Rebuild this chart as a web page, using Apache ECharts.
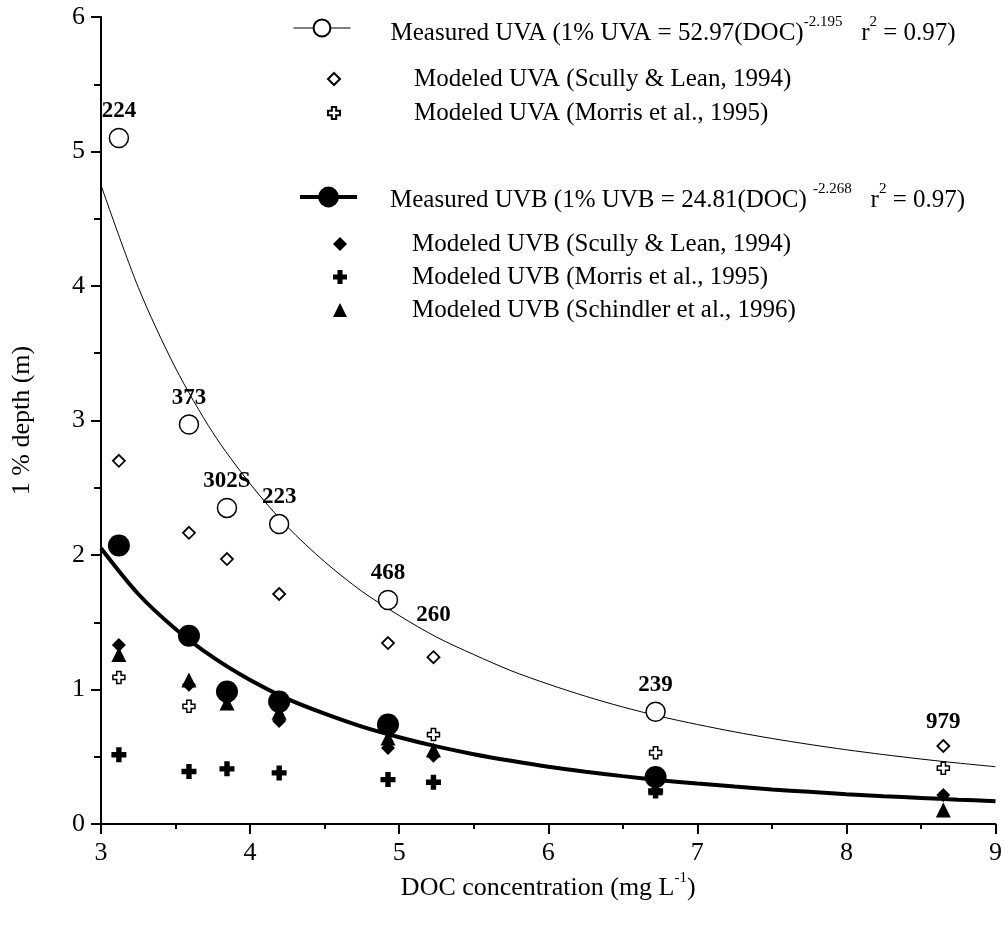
<!DOCTYPE html>
<html>
<head>
<meta charset="utf-8">
<script src="https://cdn.jsdelivr.net/npm/echarts@6/dist/echarts.min.js"></script>
<style>
html,body{margin:0;padding:0;background:#fff;}
#c{width:1005px;height:926px;}
</style>
</head>
<body>
<div id="c"></div>
<script>
// ---- data ----
const stations = ['224', '373', '302S', '223', '468', '260', '239', '979'];
const doc = [3.12, 3.59, 3.845, 4.195, 4.925, 5.23, 6.72, 8.65];
const measuredUVA = [5.10, 2.97, 2.35, 2.23, 1.665, null, 0.835, null];
const measuredUVB = [2.07, 1.40, 0.985, 0.91, 0.74, null, 0.35, null];
const scullyUVA = [2.70, 2.165, 1.97, 1.71, 1.345, 1.24, null, 0.58];
const morrisUVA = [1.09, 0.875, null, null, null, 0.665, 0.53, 0.415];
const scullyUVB = [1.33, 1.035, 0.93, 0.765, 0.565, 0.507, 0.30, 0.215];
const morrisUVB = [0.515, 0.39, 0.41, 0.38, 0.33, 0.31, 0.245, null];
const schindlerUVB = [1.26, 1.07, 0.90, 0.83, 0.64, 0.55, 0.27, 0.105];
// fitted curves
const curveX = [3, 3.25, 3.5, 3.75, 4, 4.25, 4.5, 4.75, 5, 5.25, 5.5, 5.75, 6, 6.25, 6.5, 6.75, 7, 7.25, 7.5, 7.75, 8, 8.25, 8.5, 8.75, 9];
const fitUVA = [4.75, 3.99, 3.39, 2.91, 2.53, 2.21, 1.95, 1.73, 1.55, 1.39, 1.26, 1.14, 1.04, 0.95, 0.87, 0.80, 0.74, 0.685, 0.636, 0.592, 0.552, 0.516, 0.483, 0.453, 0.426];
const fitUVB = [2.05, 1.71, 1.45, 1.24, 1.07, 0.93, 0.82, 0.724, 0.645, 0.577, 0.519, 0.47, 0.426, 0.389, 0.356, 0.326, 0.301, 0.278, 0.257, 0.239, 0.222, 0.207, 0.194, 0.181, 0.17];
const xTicks = [3, 4, 5, 6, 7, 8, 9];
const yTicks = [0, 1, 2, 3, 4, 5, 6];
// labels placed on other markers for stations without a measured UVA point
const labelOnScully = {'260': 24, '979': 6};

const nmUVA = 'Measured UVA';
const nmUVB = 'Measured UVB';
const nmSUVA = 'Modeled UVA (Scully & Lean, 1994)';
const nmMUVA = 'Modeled UVA (Morris et al., 1995)';
const nmSUVB = 'Modeled UVB (Scully & Lean, 1994)';
const nmMUVB = 'Modeled UVB (Morris et al., 1995)';
const nmTUVB = 'Modeled UVB (Schindler et al., 1996)';

const FONT = 'Liberation Serif';
const crossPath = 'path://M3.2,0 H6.8 V3.2 H10 V6.8 H6.8 V10 H3.2 V6.8 H0 V3.2 H3.2 Z';

function pts(arr) {
  const out = [];
  doc.forEach((x, i) => { if (arr[i] != null) out.push({name: stations[i], value: [x, arr[i]]}); });
  return out;
}
function curve(arr) { return curveX.map((x, i) => [x, arr[i]]); }

const richBase = {
  t: {fontFamily: FONT, fontSize: 25, lineHeight: 36, color: '#000'},
  sup: {fontFamily: FONT, fontSize: 15, lineHeight: 15, verticalAlign: 'top', color: '#000'}
};
const plainText = {fontFamily: FONT, fontSize: 25, lineHeight: 30, color: '#000'};

const labelStyle = {fontFamily: FONT, fontSize: 23, fontWeight: 'bold', color: '#000', opacity: 1};

const scullyUVAData = pts(scullyUVA).map(d => {
  if (labelOnScully[d.name] != null) {
    d.label = {show: true, position: 'top', distance: labelOnScully[d.name], formatter: d.name, ...labelStyle};
  }
  return d;
});

const chart = echarts.init(document.getElementById('c'), null, {renderer: 'canvas'});
const option = {
  animation: false,
  backgroundColor: '#fff',
  grid: {left: 101, right: 7, top: 17, bottom: 102, containLabel: false},
  xAxis: {
    type: 'value', min: xTicks[0], max: xTicks[xTicks.length - 1], interval: 1,
    name: '{t|DOC concentration (mg L}{sup|-1}{t|)}',
    nameLocation: 'middle', nameGap: 44,
    nameTextStyle: {rich: {
      t: {fontFamily: FONT, fontSize: 26, lineHeight: 34, color: '#000'},
      sup: {fontFamily: FONT, fontSize: 15, lineHeight: 15, verticalAlign: 'top', color: '#000'}
    }},
    axisLine: {lineStyle: {color: '#000', width: 2}},
    axisTick: {inside: false, length: 10, lineStyle: {color: '#000', width: 2}},
    minorTick: {show: true, splitNumber: 2, length: 5, lineStyle: {color: '#000', width: 2}},
    splitLine: {show: false},
    axisLabel: {fontFamily: FONT, fontSize: 26, color: '#000', margin: 16}
  },
  yAxis: {
    type: 'value', min: yTicks[0], max: yTicks[yTicks.length - 1], interval: 1,
    name: '1 % depth (m)', nameLocation: 'middle', nameGap: 66, nameRotate: 90,
    nameTextStyle: {fontFamily: FONT, fontSize: 26, color: '#000'},
    axisLine: {lineStyle: {color: '#000', width: 2}},
    axisTick: {inside: false, length: 10, lineStyle: {color: '#000', width: 2}},
    minorTick: {show: true, splitNumber: 2, length: 7, lineStyle: {color: '#000', width: 2}},
    splitLine: {show: false},
    axisLabel: {fontFamily: FONT, fontSize: 26, color: '#000', margin: 16}
  },
  legend: [
    {
      data: [nmUVA], orient: 'vertical', left: 293, top: 15, padding: 0,
      itemWidth: 57, itemHeight: 21, selectedMode: false,
      lineStyle: {width: 1, color: '#000'},
      formatter: () => '{t|Measured UVA (1% UVA = 52.97(DOC)}{sup|-2.195}{t|   r}{sup|2}{t| = 0.97)}',
      textStyle: {padding: [10, 0, 0, 35], rich: richBase}
    },
    {
      data: [nmSUVA, nmMUVA], orient: 'vertical', left: 327, top: 61, padding: 0,
      itemWidth: 12, itemHeight: 12, itemGap: -2, selectedMode: false,
      itemStyle: {opacity: 1},
      textStyle: Object.assign({padding: [6, 0, 0, 69]}, plainText)
    },
    {
      data: [nmUVB], orient: 'vertical', left: 298, top: 182, padding: 0,
      itemWidth: 57, itemHeight: 26, selectedMode: false,
      lineStyle: {width: 4, color: '#000'},
      formatter: () => '{t|Measured UVB (1% UVB = 24.81(DOC) }{sup|-2.268}{t|   r}{sup|2}{t| = 0.97)}',
      textStyle: {padding: [6, 0, 0, 28], rich: richBase}
    },
    {
      data: [nmSUVB, nmMUVB, nmTUVB], orient: 'vertical', left: 333, top: 226, padding: 0,
      itemWidth: 14, itemHeight: 14, itemGap: -3, selectedMode: false,
      itemStyle: {opacity: 1},
      textStyle: Object.assign({padding: [6, 0, 0, 60]}, plainText)
    }
  ],
  series: [
    {
      name: nmUVA, type: 'line', data: curve(fitUVA), smooth: 0.3,
      symbol: 'emptyCircle', showSymbol: false, silent: true, z: 2,
      lineStyle: {color: '#000', width: 1}, itemStyle: {color: '#000'}
    },
    {
      name: nmUVB, type: 'line', data: curve(fitUVB), smooth: 0.3,
      symbol: 'circle', showSymbol: false, silent: true, z: 2,
      lineStyle: {color: '#000', width: 4}, itemStyle: {color: '#000'}
    },
    {
      name: nmMUVA, type: 'scatter', data: pts(morrisUVA), symbol: crossPath, symbolSize: 12, z: 3,
      itemStyle: {color: '#fff', borderColor: '#000', borderWidth: 1.5, opacity: 1}
    },
    {
      name: nmSUVA, type: 'scatter', data: scullyUVAData, symbol: 'diamond', symbolSize: 12, z: 3,
      itemStyle: {color: '#fff', borderColor: '#000', borderWidth: 1.8, opacity: 1}
    },
    {
      name: nmMUVB, type: 'scatter', data: pts(morrisUVB), symbol: crossPath, symbolSize: 15, z: 3,
      itemStyle: {color: '#000', opacity: 1}
    },
    {
      name: nmTUVB, type: 'scatter', data: pts(schindlerUVB), symbol: 'triangle', symbolSize: 15, z: 3,
      itemStyle: {color: '#000', opacity: 1}
    },
    {
      name: nmSUVB, type: 'scatter', data: pts(scullyUVB), symbol: 'diamond', symbolSize: 14, z: 3,
      itemStyle: {color: '#000', opacity: 1}
    },
    {
      name: nmUVB, type: 'scatter', data: pts(measuredUVB), symbol: 'circle', symbolSize: 22, z: 4,
      itemStyle: {color: '#000', opacity: 1}
    },
    {
      name: nmUVA, type: 'scatter', data: pts(measuredUVA), symbol: 'circle', symbolSize: 19, z: 4,
      itemStyle: {color: '#fff', borderColor: '#000', borderWidth: 1.5, opacity: 1},
      label: Object.assign({show: true, position: 'top', distance: 5, formatter: p => p.name}, labelStyle)
    }
  ]
};
chart.setOption(option);
</script>
</body>
</html>
